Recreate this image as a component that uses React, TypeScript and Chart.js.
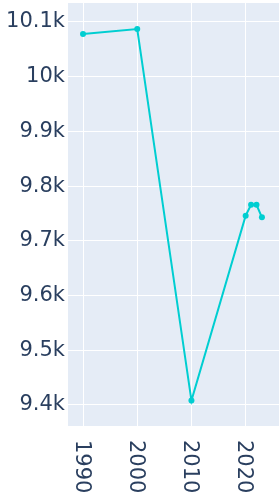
import React, { useEffect, useRef } from "react";
import { Chart, registerables } from "chart.js";

Chart.register(...registerables);

const years = [1990, 2000, 2010, 2020, 2021, 2022, 2023];
const population = [10078, 10087, 9408, 9746, 9766, 9766, 9743];
const xTickYears = [1990, 2000, 2010, 2020];
const yTickValues = [9400, 9500, 9600, 9700, 9800, 9900, 10000, 10100];

const FONT = "'DejaVu Sans', sans-serif";
const TEXT = "#2a3f5f";

const bgPlugin = {
  id: "plotBg",
  beforeDraw(chart: any) {
    const { ctx, chartArea } = chart;
    ctx.save();
    ctx.fillStyle = "#E5ECF6";
    ctx.fillRect(chartArea.left, chartArea.top, chartArea.right - chartArea.left, chartArea.bottom - chartArea.top);
    ctx.restore();
  },
};

const xLabelPlugin = {
  id: "xLabels",
  afterDraw(chart: any) {
    const { ctx, chartArea } = chart;
    const xs = chart.scales.x;
    ctx.save();
    ctx.fillStyle = TEXT;
    ctx.font = `21px ${FONT}`;
    ctx.textAlign = "left";
    ctx.textBaseline = "middle";
    for (const t of xs.ticks) {
      const px = xs.getPixelForValue(t.value);
      ctx.save();
      ctx.translate(px - 2, chartArea.bottom + 14);
      ctx.rotate(Math.PI / 2);
      ctx.fillText(String(t.value), 0, 0);
      ctx.restore();
    }
    ctx.restore();
  },
};

export default function App() {
  const ref = useRef<HTMLCanvasElement>(null);
  useEffect(() => {
    if (!ref.current) return;
    const chart = new Chart(ref.current, {
      type: "line",
      data: {
        datasets: [
          {
            data: years.map((y, i) => ({ x: y, y: population[i] })),
            borderColor: "#00CED1",
            backgroundColor: "#00CED1",
            borderWidth: 2,
            pointRadius: 3,
            pointBorderWidth: 0,
            tension: 0,
          },
        ],
      },
      options: {
        responsive: false,
        animation: false,
        layout: { autoPadding: false, padding: { top: 3, right: 1, left: 0, bottom: 0 } },
        plugins: { legend: { display: false }, tooltip: { enabled: false } },
        scales: {
          x: {
            type: "linear",
            min: 1987.23,
            max: 2026.15,
            afterBuildTicks: (s: any) => {
              s.ticks = xTickYears.map((v) => ({ value: v }));
            },
            afterFit: (s: any) => {
              s.height = 74;
              s.paddingLeft = 0;
              s.paddingRight = 0;
            },
            ticks: { display: false },
            grid: { color: "#ffffff", lineWidth: 1, drawTicks: false },
            border: { display: false },
          },
          y: {
            min: 9361.6,
            max: 10134.7,
            afterBuildTicks: (s: any) => {
              s.ticks = yTickValues.map((v) => ({ value: v }));
            },
            afterFit: (s: any) => {
              s.width = 68;
              s.paddingTop = 0;
              s.paddingBottom = 0;
            },
            ticks: {
              color: TEXT,
              font: { family: FONT, size: 21 },
              padding: 3,
              callback: (v: any) => `${Number(v) / 1000}k`,
            },
            grid: { color: "#ffffff", lineWidth: 1, drawTicks: false },
            border: { display: false },
          },
        },
      },
      plugins: [bgPlugin, xLabelPlugin],
    });
    return () => chart.destroy();
  }, []);
  return (
    <div style={{ position: "fixed", left: 0, top: 0, width: 280, height: 500, background: "#fff" }}>
      <canvas ref={ref} width={280} height={500} style={{ display: "block" }} />
    </div>
  );
}
